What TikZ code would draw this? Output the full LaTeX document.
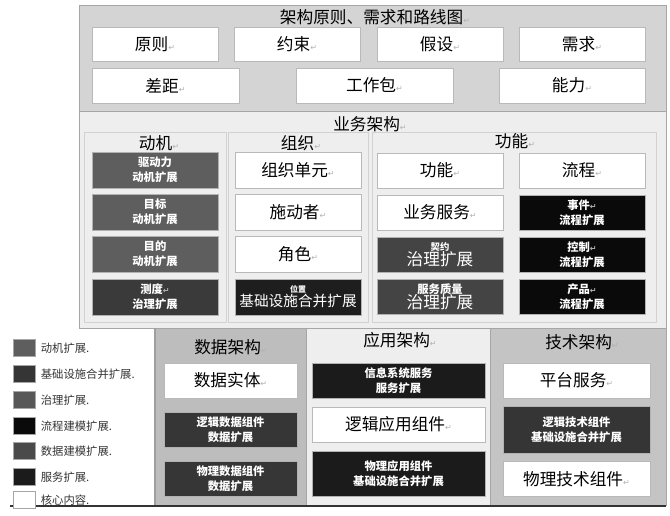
\documentclass[tikz,border=0pt]{standalone}
\usepackage{fontspec}
\setmainfont{Noto Sans CJK SC}
\newfontfamily\symfont{DejaVu Sans}
\usetikzlibrary{positioning}

\definecolor{motiv}{HTML}{5E5E5E}
\definecolor{infra}{HTML}{1E1E1E}
\definecolor{gover}{HTML}{444444}
\definecolor{proc}{HTML}{0A0A0A}
\definecolor{datax}{HTML}{363636}
\definecolor{serv}{HTML}{1B1B1B}
\definecolor{topbg}{HTML}{D4D4D4}
\definecolor{lightbg}{HTML}{EEEEEE}
\definecolor{databg}{HTML}{BDBDBD}
\definecolor{techbg}{HTML}{C4C4C4}
\definecolor{framec}{HTML}{A6A6A6}

% marca de paragrafo
\newcommand\rt{{\symfont\fontsize{6}{6}\selectfont\color{gray!60}↵}}
\newcommand\bigtxt{\fontsize{12.5}{15}\selectfont}
\newcommand\smtxt{\bfseries\fontsize{8.5}{11.5}\selectfont}

\tikzset{
  bx/.style 2 args={minimum width=#1*0.75pt, minimum height=#2*0.75pt},
  core/.style={draw=gray!55, fill=white, inner sep=0pt, font=\bigtxt},
  ext/.style={draw=gray!60, fill=#1, text=white, inner sep=0pt, align=center, font=\smtxt},
  title/.style={inner sep=1pt, font=\fontsize{12.5}{14}\selectfont},
  legbox/.style={draw=gray!70, fill=#1, minimum width=16.5pt, minimum height=13pt, inner sep=0pt},
  legtext/.style={inner sep=0pt, font=\fontsize{8.5}{10}\selectfont, text=black!80},
}

\begin{document}
\begin{tikzpicture}[x=0.75pt, y=-0.75pt]

  \useasboundingbox (0,0) rectangle (670,516);

  % Fundos das secoes
  \fill[topbg] (79,5) rectangle (666,111);
  \fill[lightbg] (79,111) rectangle (666,328);
  \fill[databg] (155,328) rectangle (306,506);
  \fill[lightbg] (306,328) rectangle (490,506);
  \fill[techbg] (490,328) rectangle (666,506);
  \draw[framec] (79,5) rectangle (666,111);
  \draw[framec] (79,111) rectangle (666,328);
  \draw[framec] (306,328) -- (306,506);
  \draw[framec] (490,328) -- (490,506) (666,328) -- (666,506);
  \draw[gray!75, line width=2pt] (155,328) -- (155,506);
  \draw[black!80, line width=1.2pt] (10,506) -- (666,506);

  % Quadros do negocio
  \draw[gray!35] (84,132) rectangle (226,322);
  \draw[gray!35] (228,132) rectangle (368,322);
  \draw[gray!35] (372,132) rectangle (656,322);

  % Titulos
  \node[title] (tArch) at (375,17) {架构原则、需求和路线图\rt};
  \node[title] (tBiz) at (370,124) {业务架构\rt};
  \node[title] (tMot) at (159,143) {动机\rt};
  \node[title] (tOrg) at (301,143) {组织\rt};
  \node[title] (tFun) at (515,141) {功能\rt};
  \node[title] (tData) at (231,347) {数据架构\rt};
  \node[title] (tApp) at (400,340) {应用架构\rt};
  \node[title] (tTech) at (582,342) {技术架构\rt};

  % Principios, requisitos
  \node[core, bx={126}{34}] (pYuanze) at (155,44) {原则\rt};
  \node[core, bx={126}{34}] (pYueshu) at (297,44) {约束\rt};
  \node[core, bx={126}{34}] (pJiashe) at (440,44) {假设\rt};
  \node[core, bx={126}{34}] (pXuqiu) at (582,44) {需求\rt};
  \node[core, bx={147}{35}] (pChaju) at (165.5,85.5) {差距\rt};
  \node[core, bx={157}{35}] (pGzb) at (374.5,85.5) {工作包\rt};
  \node[core, bx={146}{35}] (pNengli) at (572,85.5) {能力\rt};

  % Motivacao
  \node[ext=motiv, bx={126}{36}] (mQdl) at (155,170) {驱动力\\动机扩展};
  \node[ext=motiv, bx={126}{36}] (mMb) at (155,212) {目标\\动机扩展};
  \node[ext=motiv, bx={126}{36}] (mMd) at (155,254) {目的\\动机扩展};
  \node[ext=gover!85!black, bx={126}{36}] (mCd) at (155,297) {测度\rt\\治理扩展};

  % Organizacao
  \node[core, bx={126}{36}] (oDy) at (298,170) {组织单元\rt};
  \node[core, bx={126}{36}] (oSdz) at (298,212) {施动者\rt};
  \node[core, bx={126}{36}] (oJs) at (298,254) {角色\rt};
  \node[ext=infra, bx={126}{36}] (oWz) at (298,297)
    {{\fontsize{6}{6}\selectfont 位置}\\[-1pt]{\mdseries\fontsize{11}{12}\selectfont 基础设施合并扩展}};

  % Funcoes
  \node[core, bx={126}{35}] (fGn) at (440,170.5) {功能\rt};
  \node[core, bx={126}{35}] (fLc) at (582,170.5) {流程\rt};
  \node[core, bx={126}{35}] (fYwfw) at (440,212.5) {业务服务\rt};
  \node[ext=proc, bx={126}{35}] (fSj) at (582,212.5) {事件\rt\\流程扩展};
  \node[ext=gover, bx={126}{35}] (fQy) at (440,254.5)
    {{\fontsize{7}{8}\selectfont 契约}\\{\mdseries\fontsize{12.5}{13}\selectfont 治理扩展}};
  \node[ext=proc, bx={126}{35}] (fKz) at (582,254.5) {控制\rt\\流程扩展};
  \node[ext=gover, bx={126}{35}] (fFwzl) at (440,296.5)
    {服务质量\\{\mdseries\fontsize{12.5}{13}\selectfont 治理扩展}};
  \node[ext=proc, bx={126}{35}] (fCp) at (582,296.5) {产品\rt\\流程扩展};

  % Dados
  \node[core, bx={133}{35}] (dSt) at (230.5,380.5) {数据实体\rt};
  \node[ext=datax, bx={133}{35}] (dLj) at (230.5,429.5) {逻辑数据组件\\数据扩展};
  \node[ext=datax, bx={133}{35}] (dWl) at (230.5,478.5) {物理数据组件\\数据扩展};

  % Aplicacao
  \node[ext=serv, bx={173}{35}] (aXx) at (398.5,380.5) {信息系统服务\\服务扩展};
  \node[core, bx={173}{35}] (aLj) at (398.5,424.5) {逻辑应用组件\rt};
  \node[ext=serv, bx={173}{45}] (aWl) at (398.5,473.5) {物理应用组件\\基础设施合并扩展};

  % Tecnologia
  \node[core, bx={147}{35}] (tPt) at (576.5,380.5) {平台服务\rt};
  \node[ext=infra!90!white, bx={147}{47}] (tLj) at (576.5,429.5) {逻辑技术组件\\基础设施合并扩展};
  \node[core, bx={147}{35}] (tWl) at (576.5,479) {物理技术组件\rt};

  % Legenda
  \foreach \c/\t/\y [count=\i] in {motiv/动机扩展/348, infra!90!white/基础设施合并扩展/374,
      gover!90!white/治理扩展/400, proc/流程建模扩展/426, datax!90!white/数据建模扩展/451,
      serv/服务扩展/477, white/核心内容/500} {
    \node[legbox=\c] (lg\i) at (24,\y) {};
    \node[legtext, anchor=west, right=4pt of lg\i] (lt\i) {\t.};
  }

\end{tikzpicture}
\end{document}
